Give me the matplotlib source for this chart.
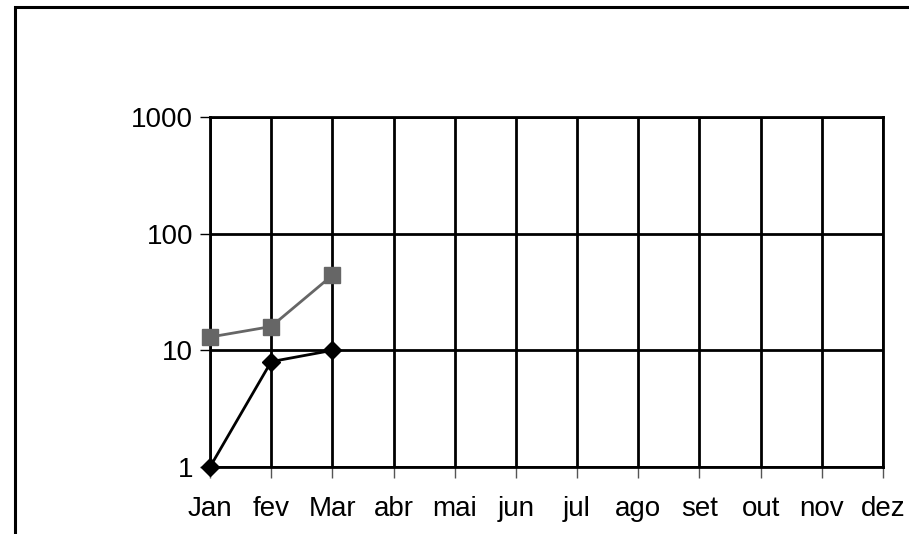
import matplotlib.pyplot as plt
from matplotlib.patches import Rectangle

months = ['Jan', 'fev', 'Mar', 'abr', 'mai', 'jun', 'jul', 'ago', 'set', 'out', 'nov', 'dez']
serie_a = [1, 8, 10]      # black diamonds
serie_b = [13, 16, 44]    # grey squares

plt.rcParams['font.family'] = ['Liberation Sans', 'DejaVu Sans']

W, H = 909, 534
fig = plt.figure(figsize=(W / 100, H / 100), dpi=100)

# outer chart frame (cut off at right and bottom)
fig.patches.append(Rectangle((15 / W, -0.1), 1.2, 1 - 7 / H + 0.1, transform=fig.transFigure,
                             fill=False, edgecolor='black', linewidth=2.2))

ax = fig.add_axes([210 / W, 1 - 467 / H, (883 - 210) / W, (467 - 117) / H])
x = list(range(len(months)))

ax.plot(x[:len(serie_b)], serie_b, color='#666666', lw=2, marker='s', ms=11,
        markerfacecolor='#666666', markeredgecolor='#666666', zorder=3, clip_on=False)
ax.plot(x[:len(serie_a)], serie_a, color='black', lw=2, marker='D', ms=9,
        markerfacecolor='black', zorder=4, clip_on=False)

ax.set_yscale('log')
ax.set_ylim(1, 1000)
ax.set_xlim(0, len(months) - 1)
ax.set_yticks([1, 10, 100, 1000])
ax.set_yticklabels(['1', '10', '100', '1000'])
ax.yaxis.set_minor_locator(plt.NullLocator())
ax.set_xticks(x)
ax.set_xticklabels(months)

ax.grid(True, color='black', lw=2)
ax.set_axisbelow(True)
for s in ax.spines.values():
    s.set_linewidth(2)
    s.set_color('black')

ax.tick_params(axis='y', direction='out', length=7, width=1, labelsize=20, pad=5)
ax.tick_params(axis='x', direction='out', length=8, width=1, color='#555555', labelsize=20, pad=13)

fig.savefig('out.png', dpi=100)
